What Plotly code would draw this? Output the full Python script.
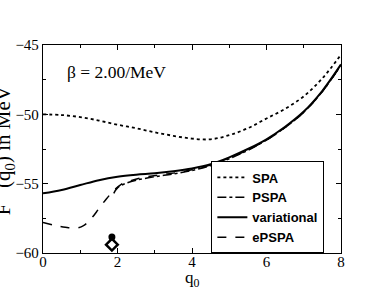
import plotly.graph_objects as go

spa_x = [0, 0.5, 1, 1.5, 2, 2.5, 3, 3.5, 4, 4.5, 5, 5.5, 6, 6.5, 7, 7.5, 8]
spa_y = [-50.0, -50.05, -50.2, -50.45, -50.75, -51.0, -51.3, -51.55, -51.75, -51.8, -51.5, -51.0, -50.3, -49.6, -48.7, -47.4, -45.7]

var_x = [0, 0.5, 1, 1.5, 2, 2.5, 3, 3.5, 4, 4.5, 5, 5.5, 6, 6.5, 7, 7.5, 8]
var_y = [-55.7, -55.45, -55.1, -54.75, -54.5, -54.35, -54.25, -54.1, -53.9, -53.6, -53.1, -52.5, -51.8, -50.9, -49.8, -48.3, -46.4]

epspa_x = [0, 0.3, 0.6, 0.9, 1.1, 1.3, 1.5, 1.7, 1.9, 2.1, 2.4, 2.8, 3.2, 3.6, 4, 4.5, 5, 5.5, 6, 6.5, 7, 7.5, 8]
epspa_y = [-57.8, -58.0, -58.15, -58.2, -58.0, -57.5, -56.8, -56.1, -55.5, -55.05, -54.75, -54.5, -54.35, -54.2, -54.0, -53.65, -53.15, -52.55, -51.85, -50.95, -49.85, -48.35, -46.45]

pspa_x = [1.9, 2.0, 2.2, 2.5, 3, 3.5, 4, 4.5, 5, 5.5, 6, 6.5, 7, 7.5, 8]
pspa_y = [-55.7, -55.3, -55.0, -54.75, -54.5, -54.3, -54.05, -53.7, -53.2, -52.6, -51.85, -50.95, -49.85, -48.35, -46.45]

pt_circle = ([1.85], [-58.85])
pt_diamond = ([1.85], [-59.4])

fig = go.Figure()
fig.add_trace(go.Scatter(x=spa_x, y=spa_y, mode="lines", name="SPA",
                         line=dict(color="black", width=1.8, dash="dot", shape="spline")))
fig.add_trace(go.Scatter(x=pspa_x, y=pspa_y, mode="lines", name="PSPA",
                         line=dict(color="black", width=1.5, dash="dashdot", shape="spline")))
fig.add_trace(go.Scatter(x=var_x, y=var_y, mode="lines", name="variational",
                         line=dict(color="black", width=2, shape="spline")))
fig.add_trace(go.Scatter(x=epspa_x, y=epspa_y, mode="lines", name="ePSPA",
                         line=dict(color="black", width=1.5, dash="dash", shape="spline")))
fig.add_trace(go.Scatter(x=pt_circle[0], y=pt_circle[1], mode="markers", showlegend=False,
                         marker=dict(symbol="circle", size=7, color="black")))
fig.add_trace(go.Scatter(x=pt_diamond[0], y=pt_diamond[1], mode="markers", showlegend=False,
                         marker=dict(symbol="diamond-open", size=9, color="black", line=dict(width=2.5))))

axis_common = dict(showgrid=False, zeroline=False, showline=True, linecolor="black", linewidth=1.3,
                   mirror="ticks", ticks="inside", ticklen=5, tickcolor="black", automargin=False,
                   tickfont=dict(family="Liberation Serif", size=15, color="black"))
fig.update_xaxes(range=[0, 8], dtick=2, minor=dict(dtick=1, ticks="inside", ticklen=3, tickcolor="black"),
                 ticklabelstandoff=-5, **axis_common)
fig.update_yaxes(range=[-60, -45], dtick=5, minor=dict(dtick=2.5, ticks="inside", ticklen=3, tickcolor="black"),
                 ticklabelstandoff=0, **axis_common)

fig.add_annotation(xref="paper", yref="paper", x=0.5, y=-0.125, text="q<sub>0</sub>",
                   showarrow=False, xanchor="center", yanchor="middle",
                   font=dict(family="Liberation Serif", size=17, color="black"))
fig.add_annotation(xref="paper", yref="paper", x=-0.13, y=0.49, text="F   (q<sub>0</sub>) in MeV",
                   textangle=-90, showarrow=False, xanchor="center", yanchor="middle",
                   font=dict(family="Liberation Serif", size=21, color="black"))
fig.add_annotation(xref="paper", yref="paper", x=0.074, y=0.87, text="β = 2.00/MeV",
                   showarrow=False, xanchor="left", yanchor="middle",
                   font=dict(family="Liberation Serif", size=17.5, color="black"))

fig.update_layout(width=387, height=299, plot_bgcolor="white", paper_bgcolor="white",
                  margin=dict(l=43, r=46, t=45, b=46),
                  legend=dict(x=0.565, y=0.44, xanchor="left", yanchor="top", bordercolor="black", borderwidth=1,
                              bgcolor="white", tracegroupgap=0, itemwidth=30,
                              font=dict(family="Liberation Sans", size=13, color="black", weight="bold")),
                  )
fig.write_html("out.html", config={"displayModeBar": False},
               post_script="document.body.style.margin='0';")
